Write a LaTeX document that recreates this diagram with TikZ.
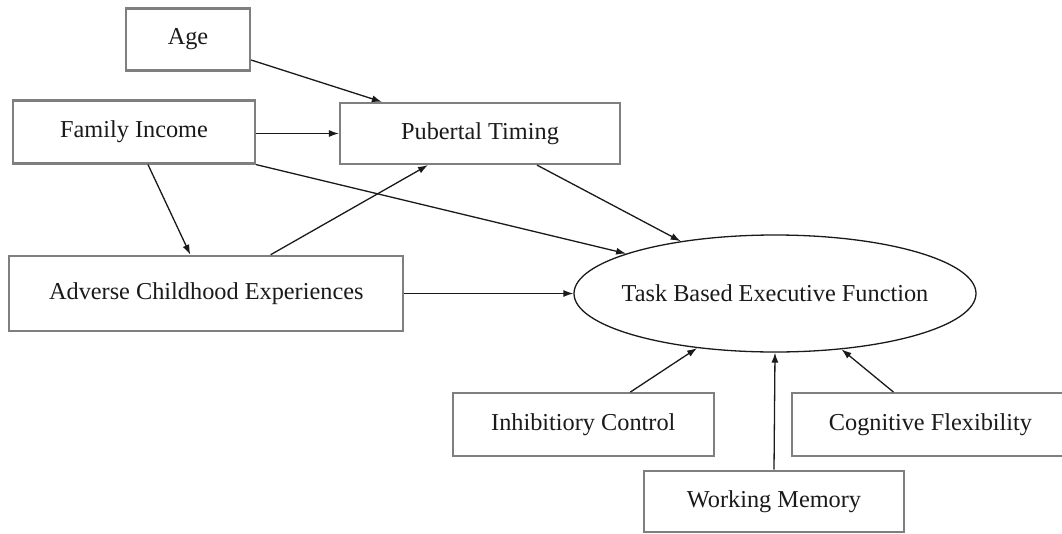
\documentclass[tikz,border=0pt]{standalone}
\usepackage{fontspec}
\setmainfont{Liberation Serif}
\usetikzlibrary{arrows.meta,calc,shapes.geometric}
\definecolor{boxgray}{HTML}{7F7F7F}
\definecolor{ink}{HTML}{1A1A1A}
\tikzset{
  box/.style={draw=boxgray, line width=2.2pt, fill=white, inner sep=0pt,
    font=\fontsize{24.3}{28}\selectfont, text=ink},
  latent/.style={ellipse, draw=ink, line width=1.3pt, fill=white, inner sep=0pt,
    minimum width=402pt, minimum height=117pt, font=\fontsize{24.3}{28}\selectfont, text=ink},
  arr/.style={draw=ink, line width=1.3pt, -{Latex[length=10pt,width=7pt]}}
}
\begin{document}
\begin{tikzpicture}[x=1pt,y=-1pt]
\clip (0,0) rectangle (1062,533);
\fill[white] (0,0) rectangle (1062,533);
\node[box, minimum width=124pt, minimum height=62pt] (age) at (188,39.5) {Age};
\node[box, minimum width=242pt, minimum height=63pt] (fi) at (134,132) {Family Income};
\node[box, minimum width=280pt, minimum height=61pt] (pt) at (480,133.5) {Pubertal Timing};
\node[box, minimum width=394pt, minimum height=75pt] (ace) at (206.3,293.3) {Adverse Childhood Experiences};
\node[latent] (tbef) at (775,293.5) {\makebox[0pt]{Task Based Executive Function}};
\node[box, minimum width=261pt, minimum height=63pt] (ic) at (583.3,424.7) {Inhibitiory Control};
\node[box, minimum width=277pt, minimum height=63pt] (cf) at (930.5,424.7) {Cognitive Flexibility};
\node[box, minimum width=260pt, minimum height=61pt] (wm) at (774,501.3) {Working Memory};

\draw[arr] ($(age.east)+(0,20.5)$) -- ($(pt.north west)+(43,0)$);
\draw[arr] (fi.east |- pt.west) -- (pt.west);
\draw[arr] ($(fi.south)+(14,0)$) -- ($(ace.north)+(-16,0)$);
\draw[arr] ($(ace.north)+(64.4,0)$) -- ($(pt.south)+(-52,0)$);
\draw[arr] (fi.south east) -- (tbef.165.9);
\draw[arr] ($(pt.south)+(57,0)$) -- (tbef.151.7);
\draw[arr] (ace.east |- tbef.west) -- (tbef.west);
\draw[arr] ($(ic.north)+(47,0)$) -- (tbef.215);
\draw[arr] (wm.north) -- (tbef.south);
\draw[arr] ($(cf.north)+(-37,0)$) -- (tbef.320.2);
\end{tikzpicture}
\end{document}
